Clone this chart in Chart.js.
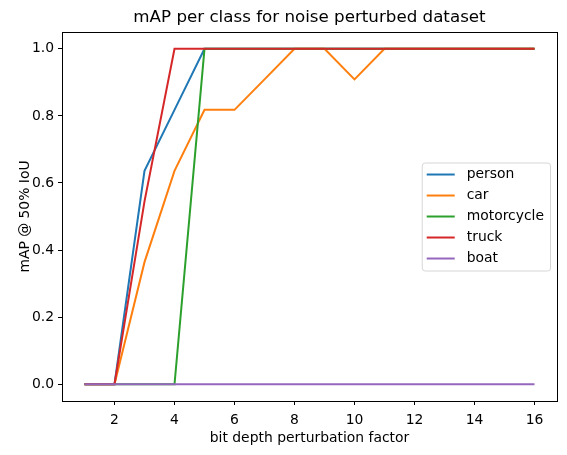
<!DOCTYPE html>
<html>
<head>
<meta charset="utf-8">
<script src="https://cdn.jsdelivr.net/npm/chart.js@4.4.1/dist/chart.umd.min.js"></script>
<style>
  body { margin: 0; background: #fff; }
  canvas { display: block; }
</style>
</head>
<body>
<canvas id="mapChart" width="567" height="455"></canvas>
<script>
// bit depth perturbation factors
const factors = [1, 2, 3, 4, 5, 6, 7, 8, 9, 10, 11, 12, 13, 14, 15, 16];

// mAP @ 50% IoU per class
const person     = [0, 0, 0.636, 0.818, 1, 1, 1, 1, 1, 1, 1, 1, 1, 1, 1, 1];
const car        = [0, 0, 0.364, 0.636, 0.818, 0.818, 0.909, 1, 1, 0.909, 1, 1, 1, 1, 1, 1];
const motorcycle = [0, 0, 0, 0, 1, 1, 1, 1, 1, 1, 1, 1, 1, 1, 1, 1];
const truck      = [0, 0, 0.545, 1, 1, 1, 1, 1, 1, 1, 1, 1, 1, 1, 1, 1];
const boat       = [0, 0, 0, 0, 0, 0, 0, 0, 0, 0, 0, 0, 0, 0, 0, 0];

const classNames = ['person', 'car', 'motorcycle', 'truck', 'boat'];
const classValues = [person, car, motorcycle, truck, boat];
const colors = ['#1f77b4', '#ff7f0e', '#2ca02c', '#d62728', '#9467bd'];

const xTicks = [2, 4, 6, 8, 10, 12, 14, 16];
const yTicks = [0, 0.2, 0.4, 0.6, 0.8, 1.0];

const FONT = 'DejaVu Sans';

const datasets = classNames.map((name, i) => ({
    label: name,
    data: factors.map((f, j) => ({ x: f, y: classValues[i][j] })),
    borderColor: colors[i],
    backgroundColor: colors[i],
    borderWidth: 2,
    pointRadius: 0,
    tension: 0,
    fill: false,
    order: classNames.length - i   // later series on top, like matplotlib
}));

// frame around the plot + legend box inside at center right
const framePlugin = {
    id: 'frameAndLegend',
    afterDraw(chart) {
        const ctx = chart.ctx;
        const a = chart.chartArea;
        ctx.save();
        ctx.strokeStyle = '#000';
        ctx.lineWidth = 1;
        ctx.strokeRect(Math.round(a.left) + 0.5, Math.round(a.top) + 0.5,
            Math.round(a.right - a.left), Math.round(a.bottom - a.top));

        ctx.font = '13.9px "' + FONT + '"';
        let maxW = 0;
        classNames.forEach(n => { maxW = Math.max(maxW, ctx.measureText(n).width); });
        const rowH = 21;
        const w = 45 + maxW + 6;
        const h = rowH * classNames.length + 3;
        const x0 = a.right - 7 - w;
        const y0 = (a.top + a.bottom) / 2 - h / 2;

        ctx.beginPath();
        ctx.roundRect(x0 + 0.5, y0 + 0.5, w, h, 3);
        ctx.fillStyle = 'rgba(255,255,255,0.8)';
        ctx.fill();
        ctx.strokeStyle = '#d6d6d6';
        ctx.stroke();

        classNames.forEach((n, i) => {
            const y = y0 + 12 + i * rowH;
            ctx.beginPath();
            ctx.moveTo(x0 + 5, y);
            ctx.lineTo(x0 + 33, y);
            ctx.strokeStyle = colors[i];
            ctx.lineWidth = 2;
            ctx.stroke();
            ctx.fillStyle = '#000';
            ctx.textBaseline = 'middle';
            ctx.textAlign = 'left';
            ctx.fillText(n, x0 + 45, y);
        });
        ctx.restore();
    }
};

new Chart(document.getElementById('mapChart').getContext('2d'), {
    type: 'line',
    data: { datasets: datasets },
    options: {
        responsive: false,
        animation: false,
        devicePixelRatio: 1,
        layout: { padding: { left: 0, right: 10, top: 0, bottom: 0 } },
        plugins: {
            legend: { display: false },
            tooltip: { enabled: false },
            title: {
                display: true,
                fullSize: false,
                text: 'mAP per class for noise perturbed dataset',
                color: '#000',
                font: { family: FONT, size: 16.7, weight: 'normal', lineHeight: 1.2 },
                padding: { top: 8, bottom: 4 }
            }
        },
        scales: {
            x: {
                type: 'linear',
                min: 0.25,
                max: 16.75,
                afterBuildTicks: s => { s.ticks = xTicks.map(v => ({ value: v })); },
                afterFit: s => { s.height = 54; },
                grid: { drawOnChartArea: false, drawTicks: true, tickLength: 4, color: '#000' },
                border: { display: true, color: '#000' },
                ticks: {
                    color: '#000',
                    padding: 7,
                    maxRotation: 0,
                    font: { family: FONT, size: 13.9 }
                },
                title: {
                    display: true,
                    text: 'bit depth perturbation factor',
                    color: '#000',
                    font: { family: FONT, size: 13.9, lineHeight: 1.2 },
                    padding: { top: 0, bottom: 8 }
                }
            },
            y: {
                min: -0.05,
                max: 1.05,
                afterBuildTicks: s => { s.ticks = yTicks.map(v => ({ value: v })); },
                afterFit: s => { s.width = 62; },
                grid: { drawOnChartArea: false, drawTicks: true, tickLength: 4, color: '#000' },
                border: { display: true, color: '#000' },
                ticks: {
                    color: '#000',
                    padding: 4,
                    font: { family: FONT, size: 13.9 },
                    callback: v => v.toFixed(1)
                },
                title: {
                    display: true,
                    text: 'mAP @ 50% IoU',
                    color: '#000',
                    font: { family: FONT, size: 13.9, lineHeight: 1.2 },
                    padding: { top: 17, bottom: 0 }
                }
            }
        }
    },
    plugins: [framePlugin]
});
</script>
</body>
</html>
